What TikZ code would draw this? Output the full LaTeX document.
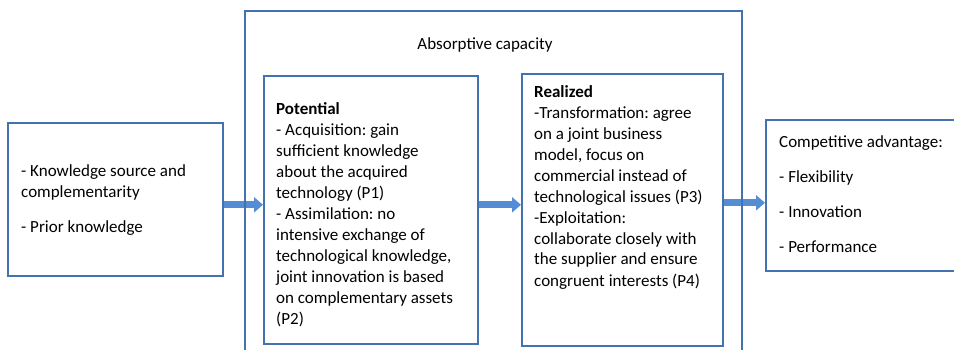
\documentclass[tikz,border=0pt]{standalone}
\usepackage{fontspec}
\setmainfont{Carlito}
\usetikzlibrary{arrows.meta,backgrounds}
\definecolor{boxblue}{RGB}{68,114,176}
\definecolor{arrowblue}{RGB}{84,141,212}

\begin{document}
\begin{tikzpicture}[x=1pt,y=-1pt,
  box/.style={draw=boxblue, line width=1.6pt, anchor=north west, inner sep=0pt},
  txt/.style={anchor=base west, inner sep=0pt, align=left, font=\fontsize{17}{21}\selectfont\frenchspacing},
  flow/.style={draw=arrowblue, line width=7pt, -{Triangle[length=9pt,width=15pt]}}]
  \useasboundingbox (0,0) rectangle (954,350);
  \clip (0,0) rectangle (954,350);

  \node[box, minimum width=215pt, minimum height=153pt] (src) at (7,122) {};
  \node[box, minimum width=497pt, minimum height=360pt] (acap) at (244,10) {};
  \node[box, minimum width=214pt, minimum height=268pt] (pot) at (263,75) {};
  \node[box, minimum width=201pt, minimum height=272pt] (rea) at (521,73) {};
  \node[box, minimum width=260pt, minimum height=151pt] (adv) at (765,119) {};

  \node[txt] (srctxt) at (21,233) {- Knowledge source and\\ complementarity\\[14pt] - Prior knowledge};
  \node[txt, anchor=base] (acaptxt) at (485,50) {Absorptive capacity};
  \node[txt] (pottxt) at (276,324) {\textbf{Potential}\\ - Acquisition: gain\\ sufficient knowledge\\ about the acquired\\ technology (P1)\\ - Assimilation: no\\ intensive exchange of\\ technological knowledge,\\ joint innovation is based\\ on complementary assets\\ (P2)};
  \node[txt] (reatxt) at (534,286) {\textbf{Realized}\\ -Transformation: agree\\ on a joint business\\ model, focus on\\ commercial instead of\\ technological issues (P3)\\ -Exploitation:\\ collaborate closely with\\ the supplier and ensure\\ congruent interests (P4)};
  \node[txt] (advtxt) at (779,252) {Competitive advantage:\\[14pt] - Flexibility\\[14pt] - Innovation\\[14pt] - Performance};

  \begin{scope}[on background layer]
    \draw[flow] ([yshift=-5.5pt]src.east) -- ([yshift=-5.5pt]src.east -| pot.west);
    \draw[flow] ([yshift=5pt]pot.east) -- ([yshift=5pt]pot.east -| rea.west);
    \draw[flow] ([yshift=7pt]rea.east) -- ([yshift=7pt]rea.east -| adv.west);
  \end{scope}
\end{tikzpicture}
\end{document}
